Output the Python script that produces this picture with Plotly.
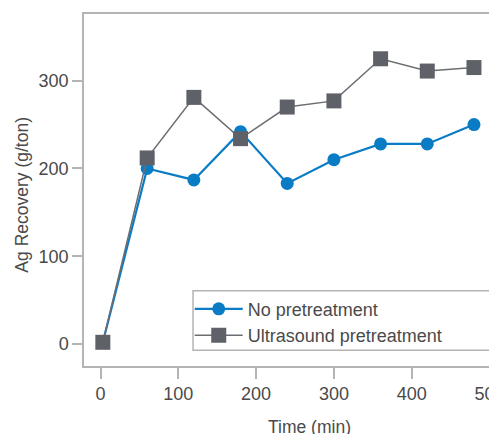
import plotly.graph_objects as go

time_min = [3, 60, 120, 180, 240, 300, 360, 420, 480]
no_pretreatment = [2, 200, 187, 242, 183, 210, 228, 228, 250]
ultrasound = [2, 212, 281, 234, 270, 277, 325, 311, 315]
x_ticks = [0, 100, 200, 300, 400, 500]
y_ticks = [0, 100, 200, 300]

font_family = "Liberation Sans, Arial, sans-serif"
text_color = "#4a4a4a"
axis_color = "#b4b4b4"

fig = go.Figure()
fig.add_trace(go.Scatter(
    x=time_min, y=no_pretreatment, mode="lines+markers", name="No pretreatment",
    line=dict(color="#0a7cc6", width=2.2),
    marker=dict(symbol="circle", size=13, color="#0a7cc6"),
))
fig.add_trace(go.Scatter(
    x=time_min, y=ultrasound, mode="lines+markers", name="Ultrasound pretreatment",
    line=dict(color="#6a6d71", width=1.5),
    marker=dict(symbol="square", size=15, color="#5e6268"),
))

# the page body adds an 8px offset, so the figure is sized to end at the window edge
fig.update_layout(
    width=489, height=426,
    margin=dict(l=76, r=0, t=6, b=68, autoexpand=False),
    paper_bgcolor="white", plot_bgcolor="white",
    font=dict(family=font_family, size=18, color=text_color),
    showlegend=True,
    legend=dict(
        x=0.256, y=0.214, xanchor="left", yanchor="top",
        borderwidth=0, bgcolor="rgba(0,0,0,0)",
        font=dict(size=18, color=text_color),
        tracegroupgap=0, itemwidth=48,
    ),
    xaxis=dict(
        range=[-21.2, 509.6], tickvals=x_ticks, showgrid=False, zeroline=False,
        showline=True, mirror=True, linecolor=axis_color, linewidth=1.5,
        ticks="outside", ticklen=11, tickcolor=axis_color, tickwidth=1.5,
        automargin=False, ticklabeloverflow="allow",
    ),
    yaxis=dict(
        range=[-25, 376], tickvals=y_ticks, showgrid=False, zeroline=False,
        showline=True, mirror=False, linecolor=axis_color, linewidth=1.5,
        ticks="outside", ticklen=10, tickcolor=axis_color, tickwidth=1.5,
        automargin=False,
    ),
)
# legend frame
fig.add_shape(
    type="rect", xref="paper", yref="paper",
    x0=0.264, x1=0.995, y0=0.045, y1=0.214,
    line=dict(color=axis_color, width=1.5), fillcolor="white", layer="below",
)
fig.add_annotation(
    text="Time (min)", xref="x", yref="paper", x=269, y=-0.173,
    showarrow=False, xanchor="center", yanchor="middle",
    font=dict(size=17.5, color=text_color),
)
fig.add_annotation(
    text="Ag Recovery (g/ton)", xref="paper", yref="paper", x=-0.15, y=0.487,
    textangle=-90, showarrow=False, xanchor="center", yanchor="middle",
    font=dict(size=17.5, color=text_color),
)

fig.write_html("out.html")
